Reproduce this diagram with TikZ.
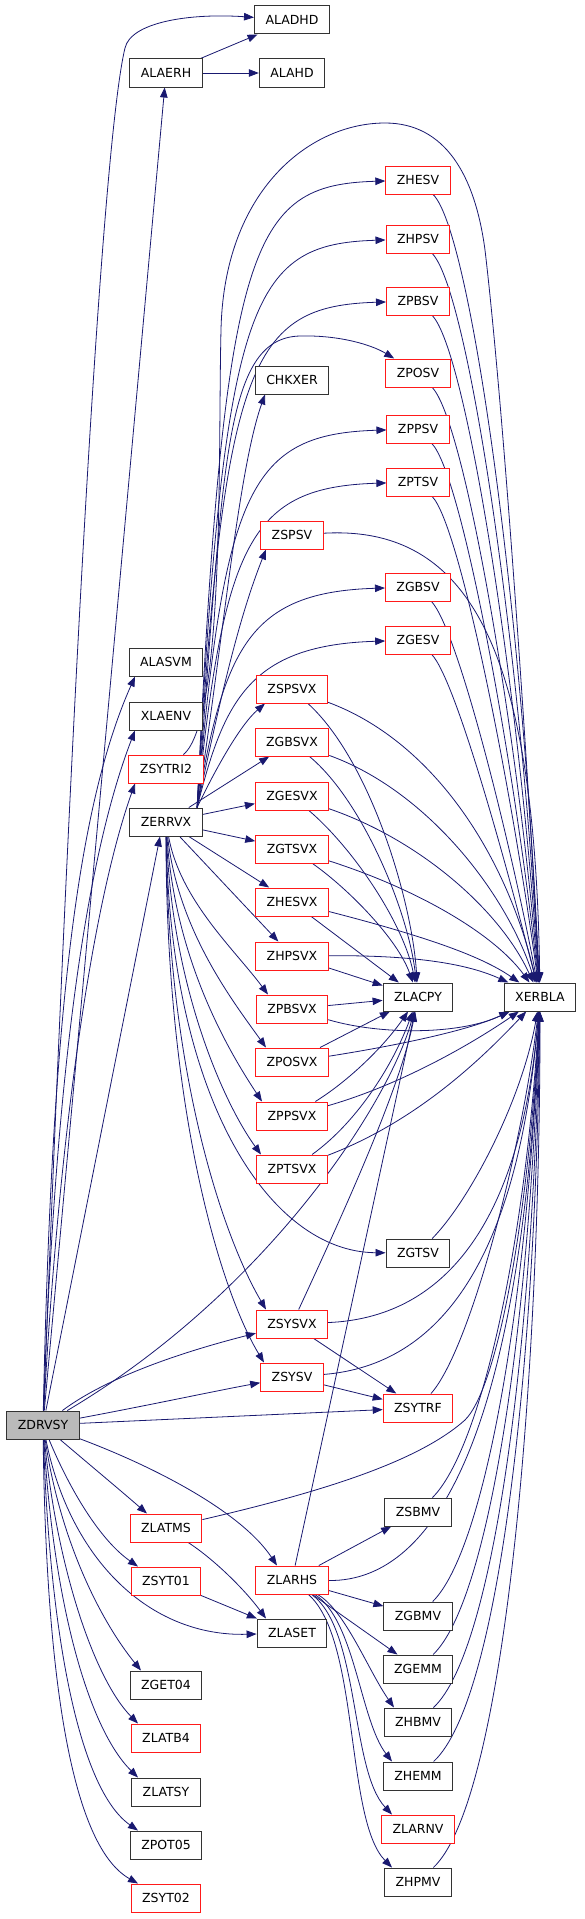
\documentclass[tikz,border=0pt]{standalone}
\usepackage{fontspec}
\setsansfont{DejaVu Sans}
\usepackage{tikz}
\usetikzlibrary{arrows.meta,backgrounds}
\usepackage{xcolor}
\definecolor{callblue}{HTML}{191970}
\definecolor{partred}{HTML}{FF1A1A}

\begin{document}
\begin{tikzpicture}[
  x=1pt, y=-1pt,
  fn/.style={draw=black!80, fill=white, line width=1pt, font=\sffamily\fontsize{12.5pt}{15pt}\selectfont, minimum height=28pt, inner xsep=11pt, inner ysep=0pt},
  part/.style={fn, draw=partred},
  root/.style={fn, fill=black!27},
  call/.style={draw=callblue, line width=0.8pt, -{Triangle[length=10pt,width=7.5pt]}}
]
  \useasboundingbox (0,0) rectangle (584,1919);

  \node[fn] (aladhd) at (292,20) {ALADHD};
  \node[fn] (alaerh) at (166,73) {ALAERH};
  \node[fn] (alahd) at (292,73) {ALAHD};
  \node[part] (zhesv) at (418,180) {ZHESV};
  \node[part] (zhpsv) at (418,239) {ZHPSV};
  \node[part] (zpbsv) at (418,301) {ZPBSV};
  \node[part] (zposv) at (418,373) {ZPOSV};
  \node[fn] (chkxer) at (292,380) {CHKXER};
  \node[part] (zppsv) at (418,429) {ZPPSV};
  \node[part] (zptsv) at (418,482) {ZPTSV};
  \node[part] (zspsv) at (292,535) {ZSPSV};
  \node[part] (zgbsv) at (418,587) {ZGBSV};
  \node[part] (zgesv) at (418,640) {ZGESV};
  \node[fn] (alasvm) at (166,662) {ALASVM};
  \node[part] (zspsvx) at (292,689) {ZSPSVX};
  \node[fn] (xlaenv) at (166,716) {XLAENV};
  \node[part] (zgbsvx) at (292,742) {ZGBSVX};
  \node[part] (zsytri2) at (166,769) {ZSYTRI2};
  \node[part] (zgesvx) at (292,796) {ZGESVX};
  \node[fn] (zerrvx) at (166,822) {ZERRVX};
  \node[part] (zgtsvx) at (292,849) {ZGTSVX};
  \node[part] (zhesvx) at (292,902) {ZHESVX};
  \node[part] (zhpsvx) at (292,956) {ZHPSVX};
  \node[fn] (zlacpy) at (418,997) {ZLACPY};
  \node[fn] (xerbla) at (540,997) {XERBLA};
  \node[part] (zpbsvx) at (292,1009) {ZPBSVX};
  \node[part] (zposvx) at (292,1062) {ZPOSVX};
  \node[part] (zppsvx) at (292,1116) {ZPPSVX};
  \node[part] (zptsvx) at (292,1169) {ZPTSVX};
  \node[fn] (zgtsv) at (418,1253) {ZGTSV};
  \node[part] (zsysvx) at (292,1324) {ZSYSVX};
  \node[part] (zsysv) at (292,1377) {ZSYSV};
  \node[part] (zsytrf) at (418,1408) {ZSYTRF};
  \node[root] (zdrvsy) at (43,1425) {ZDRVSY};
  \node[fn] (zsbmv) at (418,1512) {ZSBMV};
  \node[part] (zlatms) at (166,1528) {ZLATMS};
  \node[part] (zsyt01) at (166,1581) {ZSYT01};
  \node[part] (zlarhs) at (292,1580) {ZLARHS};
  \node[fn] (zgbmv) at (418,1616) {ZGBMV};
  \node[fn] (zlaset) at (292,1633) {ZLASET};
  \node[fn] (zgemm) at (418,1669) {ZGEMM};
  \node[fn] (zget04) at (166,1685) {ZGET04};
  \node[fn] (zhbmv) at (418,1722) {ZHBMV};
  \node[part] (zlatb4) at (166,1738) {ZLATB4};
  \node[fn] (zhemm) at (418,1776) {ZHEMM};
  \node[fn] (zlatsy) at (166,1792) {ZLATSY};
  \node[part] (zlarnv) at (418,1829) {ZLARNV};
  \node[fn] (zpot05) at (166,1845) {ZPOT05};
  \node[fn] (zhpmv) at (418,1882) {ZHPMV};
  \node[part] (zsyt02) at (166,1898) {ZSYT02};

  \begin{scope}[on background layer]
  \draw[call] (zdrvsy) .. controls (75,600) and (105,130) .. (125,48) .. controls (131,22) and (190,13) .. (aladhd);
  \draw[call] (zdrvsy) -- (alaerh);
  \draw[call] (zdrvsy) .. controls (52,1000) and (80,800) .. ([xshift=-31pt]alasvm.south);
  \draw[call] (zdrvsy) .. controls (55,1080) and (85,860) .. ([xshift=-31pt]xlaenv.south);
  \draw[call] (zdrvsy) .. controls (58,1150) and (90,910) .. ([xshift=-31pt]zsytri2.south);
  \draw[call] (zdrvsy) -- ([xshift=-6pt]zerrvx.south);
  \draw[call] (zdrvsy) .. controls (270,1290) and (390,1100) .. (zlacpy);
  \draw[call] (zdrvsy) .. controls (110,1375) and (190,1350) .. (zsysvx);
  \draw[call] (zdrvsy) .. controls (150,1405) and (220,1390) .. (zsysv);
  \draw[call] (zdrvsy) -- (zsytrf);
  \draw[call] (zdrvsy) .. controls (90,1465) and (120,1490) .. ([xshift=-19pt]zlatms.north);
  \draw[call] (zdrvsy) .. controls (70,1490) and (100,1540) .. ([xshift=-28pt]zsyt01.north);
  \draw[call] (zdrvsy) .. controls (150,1465) and (240,1510) .. ([xshift=-15pt]zlarhs.north);
  \draw[call] (zdrvsy) .. controls (70,1560) and (150,1637) .. (zlaset);
  \draw[call] (zdrvsy) .. controls (60,1540) and (100,1620) .. ([xshift=-25pt]zget04.north);
  \draw[call] (zdrvsy) .. controls (57,1570) and (95,1680) .. ([xshift=-28pt]zlatb4.north);
  \draw[call] (zdrvsy) .. controls (54,1610) and (90,1730) .. ([xshift=-28pt]zlatsy.north);
  \draw[call] (zdrvsy) .. controls (50,1640) and (80,1790) .. ([xshift=-28pt]zpot05.north);
  \draw[call] (zdrvsy) .. controls (46,1670) and (70,1845) .. ([xshift=-28pt]zsyt02.north);

  \draw[call] (alaerh) -- (aladhd);
  \draw[call] (alaerh) -- (alahd);

  \draw[call] (zsytri2) .. controls (225,720) and (218,450) .. (221,330) .. controls (224,190) and (310,123) .. (385,123) .. controls (445,123) and (475,175) .. (485,250) .. controls (505,420) and (530,800) .. (xerbla);

  \draw[call] (zerrvx.25) .. controls (224,240) and (250,185) .. (zhesv);
  \draw[call] (zerrvx.25) .. controls (224,299) and (250,244) .. (zhpsv);
  \draw[call] (zerrvx.25) .. controls (224,361) and (250,306) .. (zpbsv);
  \draw[call] (zerrvx.25) .. controls (224,470) and (222,338) .. (300,336) .. controls (340,335) and (372,345) .. (zposv);
  \draw[call] (zerrvx.25) .. controls (222,650) and (238,470) .. ([xshift=-27pt]chkxer.south);
  \draw[call] (zerrvx.25) .. controls (224,489) and (250,434) .. (zppsv);
  \draw[call] (zerrvx.25) .. controls (224,542) and (250,487) .. (zptsv);
  \draw[call] (zerrvx.25) .. controls (220,700) and (238,620) .. ([xshift=-26pt]zspsv.south);
  \draw[call] (zerrvx.25) .. controls (224,647) and (250,592) .. (zgbsv);
  \draw[call] (zerrvx.25) .. controls (224,700) and (250,645) .. (zgesv);
  \draw[call] (zerrvx.25) .. controls (215,770) and (240,725) .. ([xshift=-27pt]zspsvx.south);
  \draw[call] (zerrvx) -- (zgbsvx);
  \draw[call] (zerrvx) -- (zgesvx);
  \draw[call] (zerrvx) -- (zgtsvx);
  \draw[call] (zerrvx) -- (zhesvx);
  \draw[call] (zerrvx) -- (zhpsvx);
  \draw[call] (zerrvx) .. controls (180,900) and (235,950) .. ([xshift=-24pt]zpbsvx.north);
  \draw[call] (zerrvx) .. controls (178,930) and (232,1000) .. ([xshift=-26pt]zposvx.north);
  \draw[call] (zerrvx) .. controls (175,960) and (228,1050) .. ([xshift=-30pt]zppsvx.north);
  \draw[call] (zerrvx) .. controls (172,990) and (225,1105) .. ([xshift=-31pt]zptsvx.north);
  \draw[call] (zerrvx) .. controls (170,1100) and (270,1252) .. (zgtsv);
  \draw[call] (zerrvx) .. controls (168,1080) and (225,1240) .. ([xshift=-26pt]zsysvx.north);
  \draw[call] (zerrvx) .. controls (166,1110) and (220,1290) .. ([xshift=-28pt]zsysv.north);

  \draw[call] (zhesv) .. controls (470,230) and (522,600) .. (xerbla);
  \draw[call] (zhpsv) .. controls (468,290) and (520,640) .. (xerbla);
  \draw[call] (zpbsv) .. controls (466,350) and (518,680) .. (xerbla);
  \draw[call] (zposv) .. controls (464,420) and (516,720) .. (xerbla);
  \draw[call] (zppsv) .. controls (462,475) and (514,760) .. (xerbla);
  \draw[call] (zptsv) .. controls (460,525) and (512,790) .. (xerbla);
  \draw[call] (zspsv) .. controls (470,525) and (535,650) .. (xerbla);
  \draw[call] (zgbsv) .. controls (458,630) and (510,840) .. (xerbla);
  \draw[call] (zgesv) .. controls (456,680) and (508,870) .. (xerbla);

  \draw[call] (zspsvx) .. controls (370,760) and (412,900) .. (zlacpy);
  \draw[call] (zgbsvx) .. controls (362,800) and (408,910) .. (zlacpy);
  \draw[call] (zgesvx) .. controls (355,850) and (404,925) .. (zlacpy);
  \draw[call] (zgtsvx) .. controls (350,890) and (398,940) .. (zlacpy);
  \draw[call] (zhesvx) -- (zlacpy);
  \draw[call] (zhpsvx) -- (zlacpy);
  \draw[call] (zpbsvx) -- (zlacpy);
  \draw[call] (zposvx) -- (zlacpy);
  \draw[call] (zppsvx) .. controls (350,1080) and (385,1045) .. (zlacpy);
  \draw[call] (zptsvx) .. controls (360,1120) and (395,1060) .. (zlacpy);

  \draw[call] (zspsvx) .. controls (430,740) and (505,850) .. (xerbla);
  \draw[call] (zgbsvx) .. controls (425,790) and (505,890) .. (xerbla);
  \draw[call] (zgesvx) .. controls (420,840) and (500,910) .. (xerbla);
  \draw[call] (zgtsvx) .. controls (420,890) and (495,935) .. (xerbla);
  \draw[call] (zhesvx) .. controls (420,935) and (480,955) .. (xerbla);
  \draw[call] (zhpsvx) .. controls (420,955) and (470,965) .. (xerbla);
  \draw[call] (zpbsvx) .. controls (380,1035) and (460,1035) .. (xerbla);
  \draw[call] (zposvx) .. controls (400,1045) and (470,1030) .. (xerbla);
  \draw[call] (zppsvx) .. controls (400,1085) and (470,1045) .. (xerbla);
  \draw[call] (zptsvx) .. controls (420,1120) and (485,1055) .. (xerbla);

  \draw[call] (zsysvx) .. controls (340,1220) and (400,1090) .. (zlacpy);
  \draw[call] (zsysvx) .. controls (440,1318) and (520,1230) .. (xerbla);
  \draw[call] (zsysvx) -- (zsytrf);
  \draw[call] (zsysv) -- (zsytrf);
  \draw[call] (zsysv) .. controls (440,1365) and (518,1260) .. (xerbla);
  \draw[call] (zsytrf) .. controls (470,1350) and (522,1150) .. (xerbla);
  \draw[call] (zgtsv) .. controls (470,1200) and (522,1100) .. (xerbla);

  \draw[call] (zlatms) .. controls (330,1490) and (420,1460) .. (465,1420) .. controls (500,1385) and (530,1200) .. (xerbla);
  \draw[call] (zlatms) .. controls (215,1560) and (245,1590) .. ([xshift=-26pt]zlaset.north);
  \draw[call] (zsyt01) -- (zlaset);

  \draw[call] (zlarhs) -- (zlacpy);
  \draw[call] (zlarhs) .. controls (440,1582) and (522,1420) .. (xerbla);
  \draw[call] (zlarhs) -- (zsbmv);
  \draw[call] (zlarhs) -- (zgbmv);
  \draw[call] (zlarhs) -- (zgemm);
  \draw[call] (zlarhs) .. controls (345,1610) and (368,1670) .. ([xshift=-24pt]zhbmv.north);
  \draw[call] (zlarhs) .. controls (355,1620) and (360,1720) .. ([xshift=-26pt]zhemm.north);
  \draw[call] (zlarhs) .. controls (360,1630) and (350,1770) .. ([xshift=-26pt]zlarnv.north);
  \draw[call] (zlarhs) .. controls (360,1640) and (345,1820) .. ([xshift=-26pt]zhpmv.north);

  \draw[call] (zsbmv) .. controls (480,1450) and (525,1250) .. (xerbla);
  \draw[call] (zgbmv) .. controls (485,1550) and (528,1300) .. (xerbla);
  \draw[call] (zgemm) .. controls (490,1600) and (530,1320) .. (xerbla);
  \draw[call] (zhbmv) .. controls (495,1650) and (533,1340) .. (xerbla);
  \draw[call] (zhemm) .. controls (500,1700) and (536,1360) .. (xerbla);
  \draw[call] (zhpmv) .. controls (505,1800) and (540,1380) .. (xerbla);
  \end{scope}
\end{tikzpicture}
\end{document}
